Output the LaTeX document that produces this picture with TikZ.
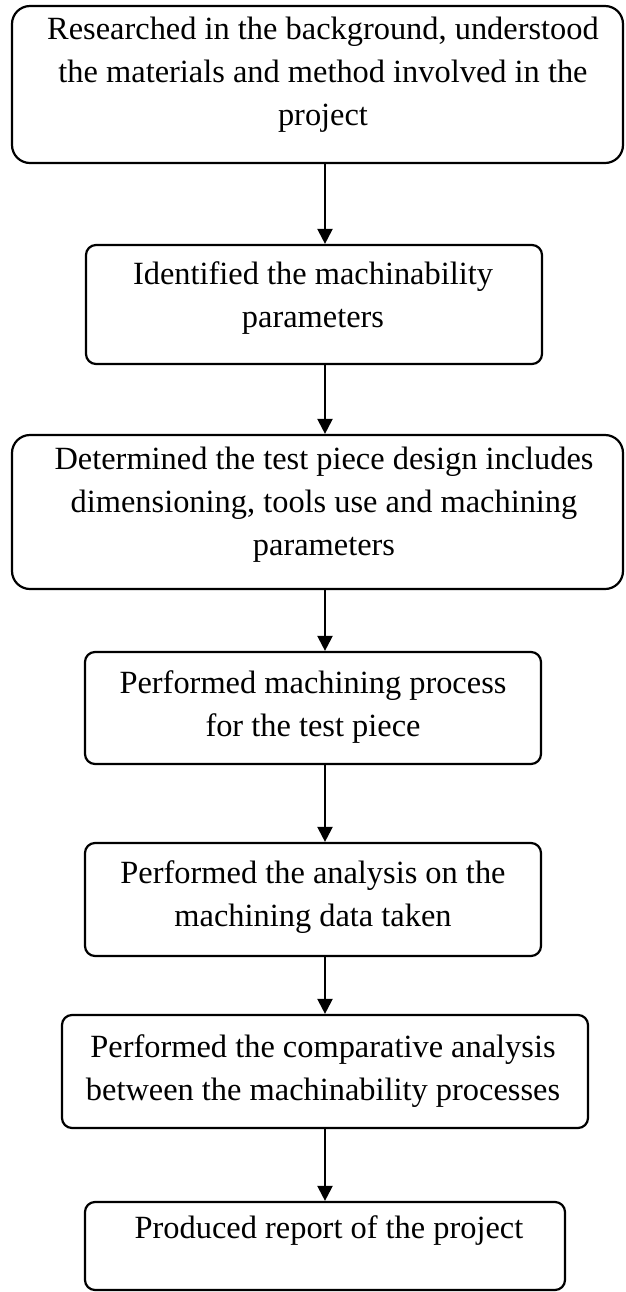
\documentclass[tikz,border=0pt]{standalone}
\usepackage{fontspec}
\setmainfont{Liberation Serif}
\usetikzlibrary{arrows.meta,fit}
\newcommand\mystrut{\rule{0pt}{13pt}}
\begin{document}
\begin{tikzpicture}[x=0.5pt,y=-0.5pt,
  box/.style={draw, line width=1.1pt, rounded corners=5pt, inner sep=0pt},
  bigbox/.style={box, rounded corners=9pt},
  txt/.style={anchor=north, inner sep=0pt, align=center, font=\fontsize{16.2}{21.6}\selectfont},
  arr/.style={line width=1.1pt, -{Triangle[width=7.5pt,length=7.5pt]}}]
\useasboundingbox (0,0) rectangle (626,1292);
\coordinate (ax) at (325,0);
% boxes
\node[bigbox, fit={(12,6) (623,163)}] (b1) {};
\node[box, fit={(86,245) (542,364)}] (b2) {};
\node[bigbox, fit={(12,435) (623,589)}] (b3) {};
\node[box, fit={(85,652) (541,764)}] (b4) {};
\node[box, fit={(85,843) (541,956)}] (b5) {};
\node[box, fit={(62,1015) (588,1128)}] (b6) {};
\node[box, fit={(85,1202) (565,1290)}] (b7) {};
% texts
\node[txt] (t1) at (323,13) {\mystrut Researched in the background, understood\\the materials and method involved in the\\project};
\node[txt] (t2) at (313,258) {\mystrut Identified the machinability\\parameters};
\node[txt] (t3) at (324,443) {\mystrut Determined the test piece design includes\\dimensioning, tools use and machining\\parameters};
\node[txt] (t4) at (313,667) {\mystrut Performed machining process\\for the test piece};
\node[txt] (t5) at (313,857) {\mystrut Performed the analysis on the\\machining data taken};
\node[txt] (t6) at (323,1031) {\mystrut Performed the comparative analysis\\between the machinability processes};
\node[txt] (t7) at (329,1212) {\mystrut Produced report of the project};
% arrows
\draw[arr] (b1.south -| ax) -- (b2.north -| ax);
\draw[arr] (b2.south -| ax) -- (b3.north -| ax);
\draw[arr] (b3.south -| ax) -- (b4.north -| ax);
\draw[arr] (b4.south -| ax) -- (b5.north -| ax);
\draw[arr] (b5.south -| ax) -- (b6.north -| ax);
\draw[arr] (b6.south -| ax) -- (b7.north -| ax);
\end{tikzpicture}
\end{document}
